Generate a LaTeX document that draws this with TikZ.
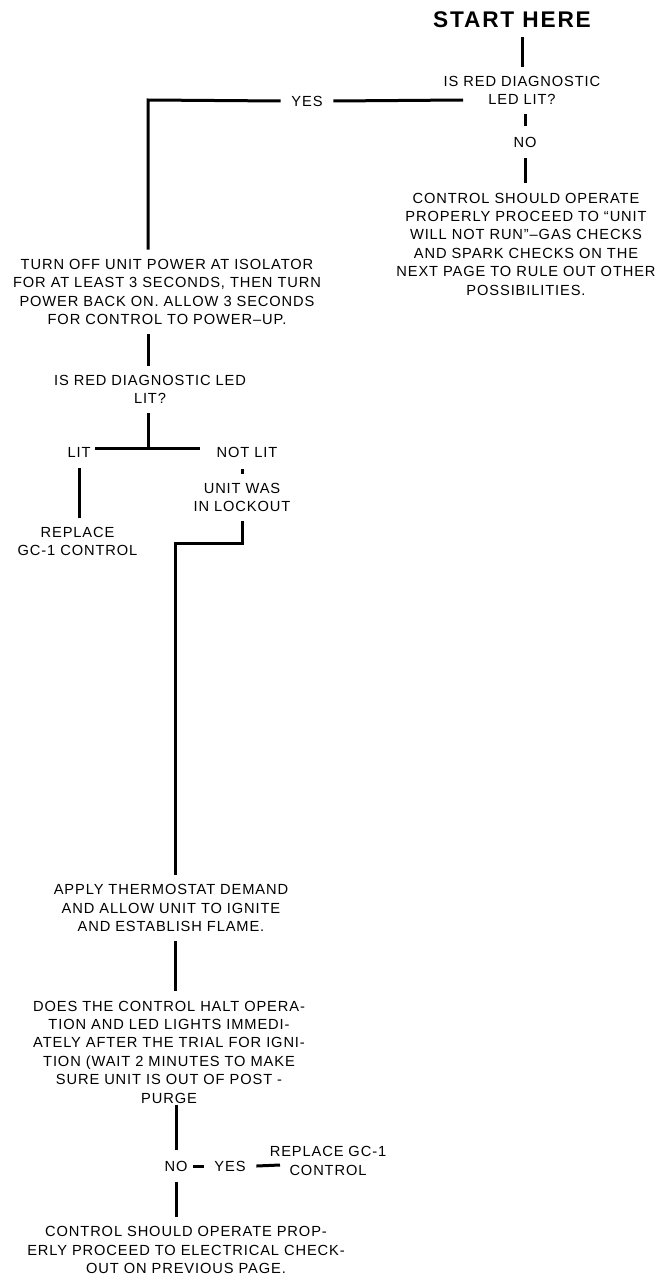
\documentclass[tikz,border=0pt]{standalone}
\usepackage{fontspec}
\setmainfont[LetterSpace=6]{Liberation Sans}
\usepackage{tikz}
\usetikzlibrary{positioning}

\begin{document}
\begin{tikzpicture}[
  x=0.75pt, y=-0.75pt,
  line width=2.25pt,
  txt/.style={align=center, inner sep=6pt, font=\fontsize{11}{13.8}\selectfont},
  lbl/.style={inner sep=7pt, font=\fontsize{11}{13.8}\selectfont},
  title/.style={inner sep=6pt, font=\fontsize{17}{19}\selectfont\bfseries\addfontfeatures{LetterSpace=8}}
]
  \useasboundingbox (0,0) rectangle (658,1277);

  % --- nodes: \node (id) at (x,y) {label}; ---
  \node[title] (start) at (512,19.5) {START HERE};
  \node[txt] (q1) at (522,90.5) {IS RED DIAGNOSTIC\\LED LIT?};
  \node[lbl] (yes1) at (307,101) {YES};
  \node[lbl] (no1) at (525,142) {NO};
  \node[txt] (ctl1) at (526,244) {CONTROL SHOULD OPERATE\\PROPERLY PROCEED TO “UNIT\\WILL NOT RUN”–GAS CHECKS\\AND SPARK CHECKS ON THE\\NEXT PAGE TO RULE OUT OTHER\\POSSIBILITIES.};
  \node[txt] (turnoff) at (167,292) {TURN OFF UNIT POWER AT ISOLATOR\\FOR AT LEAST 3 SECONDS, THEN TURN\\POWER BACK ON. ALLOW 3 SECONDS\\FOR CONTROL TO POWER–UP.};
  \node[txt] (q2) at (150,389.5) {IS RED DIAGNOSTIC LED\\LIT?};
  \node[lbl] (lit) at (79,452.5) {LIT};
  \node[lbl] (notlit) at (247,452.5) {NOT LIT};
  \node[txt] (lockout) at (242,497.5) {UNIT WAS\\IN LOCKOUT};
  \node[txt] (replace1) at (77.5,541.5) {REPLACE\\GC-1 CONTROL};
  \node[txt] (apply) at (171,908) {APPLY THERMOSTAT DEMAND\\AND ALLOW UNIT TO IGNITE\\AND ESTABLISH FLAME.};
  \node[txt] (does) at (169,1052) {DOES THE CONTROL HALT OPERA-\\TION AND LED LIGHTS IMMEDI-\\ATELY AFTER THE TRIAL FOR IGNI-\\TION (WAIT 2 MINUTES TO MAKE\\SURE UNIT IS OUT OF POST -\\PURGE};
  \node[lbl] (no2) at (176,1166) {NO};
  \node[lbl] (yes2) at (230,1166) {YES};
  \node[txt] (replace2) at (328,1161) {REPLACE GC-1\\CONTROL};
  \node[txt] (final) at (186,1250) {CONTROL SHOULD OPERATE PROP-\\ERLY PROCEED TO ELECTRICAL CHECK-\\OUT ON PREVIOUS PAGE.};

  % --- bends and loose ends ---
  \coordinate (q1in) at (463,100);
  \coordinate (c1) at (148,100);
  \coordinate (j) at (148,448);
  \coordinate (jl) at (95,448);
  \coordinate (jr) at (200,448);
  \coordinate (c3) at (175,543);
  \coordinate (r2in) at (280,1165);

  % --- edges: \draw (from) -- (to); ---
  \draw (start.south -| q1.north) -- (q1.north);
  \draw (q1in) -- (yes1.east);
  \draw (yes1.west) -- (c1) -- (c1 |- turnoff.north);
  \draw (q1.south -| no1) -- (no1.north);
  \draw (no1.south) -- (no1.south |- ctl1.north);
  \draw (c1 |- turnoff.south) -- (c1 |- q2.north);
  \draw (c1 |- q2.south) -- (j);
  \draw (jl) -- (jr);
  \draw (lit.south) -- (lit.south |- replace1.north);
  \draw (lockout.north) -- (lockout.north |- notlit.south);
  \draw (lockout.south) -- (lockout.south |- c3) -- (c3) -- (c3 |- apply.north);
  \draw (c3 |- apply.south) -- (c3 |- does.north);
  \draw ([yshift=6pt]does.south -| no2) -- (no2.north);
  \draw[shorten <=-4pt] (no2.east) -- (yes2.west);
  \draw (yes2.east) -- (r2in);
  \draw (no2.south) -- (no2.south |- final.north);
\end{tikzpicture}
\end{document}
